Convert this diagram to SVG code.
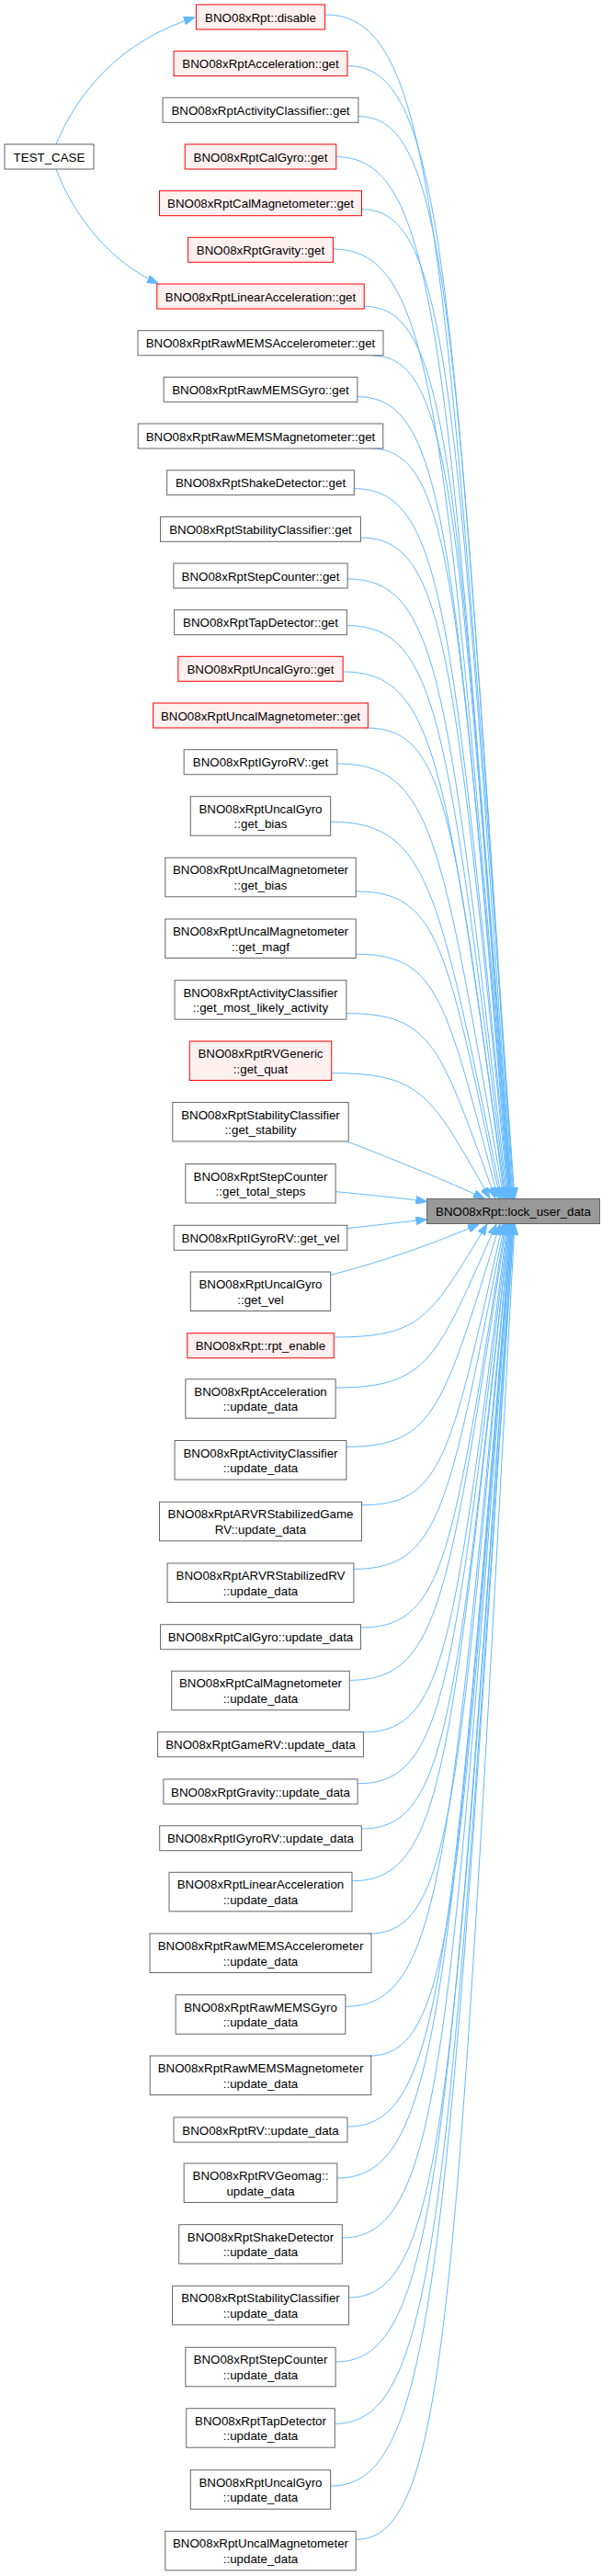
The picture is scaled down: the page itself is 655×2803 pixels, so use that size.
<svg xmlns="http://www.w3.org/2000/svg" width="655" height="2803" viewBox="0 0 655 2803">
<style>
text{font-family:"Liberation Sans",Arial,sans-serif;font-size:13.33px;fill:#000;text-anchor:middle}
.g rect{fill:#fff;stroke:#666;stroke-width:1}
.r rect{fill:#fff0f0;stroke:#f00;stroke-width:1}
.tg rect{fill:#999;stroke:#666;stroke-width:1}
#connectors path{fill:none;stroke:#63b8ff;stroke-width:1;marker-end:url(#arr)}
</style>
<defs>
<marker id="arr" markerWidth="12" markerHeight="9" refX="12" refY="4.5" orient="auto" markerUnits="userSpaceOnUse" viewBox="0 0 12 9">
<path d="M0,0 L12,4.5 L0,9 z" fill="#63b8ff" stroke="#63b8ff" stroke-width="1"/>
</marker>
</defs>
<rect width="655" height="2803" fill="#fff"/>
<g id="connectors">
<path d="M61,157 C85,100 130,45 212,19"/>
<path d="M61,184 C80,235 120,285 172,308.5"/>
<path d="M353.6,16 C473.3,16 483.6,247.8 560,1304"/>
<path d="M378,71.7 C483,71.7 492,293.5 559,1304"/>
<path d="M390,126.7 C487.4,126.7 495.8,338.6 558,1304"/>
<path d="M365.8,170.7 C476.7,170.7 486.3,374.7 557,1304"/>
<path d="M393.4,227.7 C488.3,227.7 496.5,421.4 557,1304"/>
<path d="M362.3,271 C474.6,271 484.3,456.9 556,1304"/>
<path d="M396.3,333.3 C488.9,333.3 496.9,508 556,1304"/>
<path d="M405,387 C492,387 499.5,552 555,1304"/>
<path d="M389.2,431.7 C485.4,431.7 493.7,588.7 555,1304"/>
<path d="M403,488 C490.6,488 498.1,634.9 554,1304"/>
<path d="M385.4,531.7 C483.2,531.7 491.6,670.7 554,1304"/>
<path d="M392.5,585 C485.6,585 493.6,714.4 553,1304"/>
<path d="M378.3,630 C479,630 487.7,751.3 552,1304"/>
<path d="M377.4,680.7 C478.1,680.7 486.8,792.9 551,1304"/>
<path d="M373.2,731 C475.7,731 484.6,834.1 550,1304"/>
<path d="M398,792 C485.6,792 493.1,884.2 549,1304"/>
<path d="M366.9,831 C471.9,831 481,916.1 548,1304"/>
<path d="M359.8,894.3 C467.8,894.3 477.1,968 546,1304"/>
<path d="M387.1,970 C478.1,970 485.9,1030.1 544,1304"/>
<path d="M387.1,1038.3 C476.9,1038.3 484.7,1086.1 542,1304"/>
<path d="M377,1102.7 C471,1102.7 479,1138.9 539,1304"/>
<path d="M361,1167.7 C460.8,1167.7 469.4,1192.2 533,1304"/>
<path d="M379.1,1242.7 C430,1262 490,1287 527,1304"/>
<path d="M365.2,1296.7 C400,1300 440,1304 464.5,1307.5"/>
<path d="M377.8,1336.7 C410,1333 440,1329.5 464.5,1327"/>
<path d="M359.8,1387.3 C420,1372 480,1350 521,1332"/>
<path d="M363.6,1455 C460.1,1455 468.4,1432.9 530,1332"/>
<path d="M365.2,1510 C466.6,1510 475.3,1478 540,1332"/>
<path d="M377,1574.3 C473.9,1574.3 482.2,1530.7 544,1332"/>
<path d="M393.8,1637.7 C482.7,1637.7 490.3,1582.7 547,1332"/>
<path d="M385,1707.3 C480.1,1707.3 488.3,1639.7 549,1332"/>
<path d="M392.5,1771 C483.9,1771 491.7,1692 550,1332"/>
<path d="M380.3,1828.3 C479.3,1828.3 487.8,1739 551,1332"/>
<path d="M395,1885 C486.1,1885 493.9,1785.5 552,1332"/>
<path d="M389.6,1940.7 C484.4,1940.7 492.5,1831.1 553,1332"/>
<path d="M393.4,1990 C486.5,1990 494.6,1871.6 554,1332"/>
<path d="M383.3,2046.7 C482.3,2046.7 490.8,1918.1 554,1332"/>
<path d="M402,2104 C490.7,2104 498.4,1965 555,1332"/>
<path d="M376.2,2183.3 C479.9,2183.3 488.8,2030.1 555,1332"/>
<path d="M402,2237 C491.3,2237 499,2074.1 556,1332"/>
<path d="M378.3,2314 C481.4,2314 490.3,2137.2 556,1332"/>
<path d="M366.9,2370 C477.2,2370 486.7,2183.2 557,1332"/>
<path d="M372.4,2435 C479.5,2435 488.7,2236.5 557,1332"/>
<path d="M379.5,2500 C483,2500 492,2289.8 558,1332"/>
<path d="M365.2,2570 C477,2570 486.7,2347.2 558,1332"/>
<path d="M364.4,2637.3 C477.3,2637.3 487,2402.3 559,1332"/>
<path d="M359.8,2705 C475.3,2705 485.3,2457.9 559,1332"/>
<path d="M387.1,2763.3 C487.4,2763.3 496,2505.7 560,1332"/>
</g>
<g id="target" class="tg"><rect x="464.5" y="1304.5" width="188" height="27"/><text x="558.5" y="1323">BNO08xRpt::lock_user_data</text></g>
<g id="test_case" class="g"><rect x="5" y="157" width="97" height="27"/><text x="53.5" y="175.5">TEST_CASE</text></g>
<g id="n1" class="r"><rect x="213.4" y="5" width="140.2" height="27"/><text x="283.5" y="23.5">BNO08xRpt::disable</text></g>
<g id="n2" class="r"><rect x="189.05" y="55.7" width="188.9" height="27"/><text x="283.5" y="74.2">BNO08xRptAcceleration::get</text></g>
<g id="n3" class="g"><rect x="177.1" y="106.3" width="212.8" height="27"/><text x="283.5" y="124.8">BNO08xRptActivityClassifier::get</text></g>
<g id="n4" class="r"><rect x="201.2" y="157" width="164.6" height="27"/><text x="283.5" y="175.5">BNO08xRptCalGyro::get</text></g>
<g id="n5" class="r"><rect x="173.5" y="207.7" width="220" height="27"/><text x="283.5" y="226.2">BNO08xRptCalMagnetometer::get</text></g>
<g id="n6" class="r"><rect x="204.6" y="258.3" width="157.8" height="27"/><text x="283.5" y="276.8">BNO08xRptGravity::get</text></g>
<g id="n7" class="r"><rect x="170.8" y="309" width="225.4" height="27"/><text x="283.5" y="327.5">BNO08xRptLinearAcceleration::get</text></g>
<g id="n8" class="g"><rect x="150" y="359.7" width="267" height="27"/><text x="283.5" y="378.2">BNO08xRptRawMEMSAccelerometer::get</text></g>
<g id="n9" class="g"><rect x="178.15" y="410.3" width="210.7" height="27"/><text x="283.5" y="428.8">BNO08xRptRawMEMSGyro::get</text></g>
<g id="n10" class="g"><rect x="150.2" y="461" width="266.6" height="27"/><text x="283.5" y="479.5">BNO08xRptRawMEMSMagnetometer::get</text></g>
<g id="n11" class="g"><rect x="181.7" y="511.7" width="203.6" height="27"/><text x="283.5" y="530.2">BNO08xRptShakeDetector::get</text></g>
<g id="n12" class="g"><rect x="174.55" y="562.3" width="217.9" height="27"/><text x="283.5" y="580.8">BNO08xRptStabilityClassifier::get</text></g>
<g id="n13" class="g"><rect x="188.85" y="613" width="189.3" height="27"/><text x="283.5" y="631.5">BNO08xRptStepCounter::get</text></g>
<g id="n14" class="g"><rect x="189.65" y="663.7" width="187.7" height="27"/><text x="283.5" y="682.2">BNO08xRptTapDetector::get</text></g>
<g id="n15" class="r"><rect x="193.85" y="714.3" width="179.3" height="27"/><text x="283.5" y="732.8">BNO08xRptUncalGyro::get</text></g>
<g id="n16" class="r"><rect x="166.6" y="765" width="233.8" height="27"/><text x="283.5" y="783.5">BNO08xRptUncalMagnetometer::get</text></g>
<g id="n17" class="g"><rect x="200.15" y="815.7" width="166.7" height="27"/><text x="283.5" y="834.2">BNO08xRptIGyroRV::get</text></g>
<g id="n18" class="g"><rect x="207.3" y="866.7" width="152.4" height="42.5"/><text x="283.5" y="884.7">BNO08xRptUncalGyro</text><text x="283.5" y="901.2">::get_bias</text></g>
<g id="n19" class="g"><rect x="179.8" y="933.3" width="207.4" height="42.5"/><text x="283.5" y="951.3">BNO08xRptUncalMagnetometer</text><text x="283.5" y="967.8">::get_bias</text></g>
<g id="n20" class="g"><rect x="179.8" y="1000" width="207.4" height="42.5"/><text x="283.5" y="1018">BNO08xRptUncalMagnetometer</text><text x="283.5" y="1034.5">::get_magf</text></g>
<g id="n21" class="g"><rect x="190.1" y="1066.7" width="186.8" height="42.5"/><text x="283.5" y="1084.7">BNO08xRptActivityClassifier</text><text x="283.5" y="1101.2">::get_most_likely_activity</text></g>
<g id="n22" class="r"><rect x="206.25" y="1133" width="154.5" height="42.5"/><text x="283.5" y="1151">BNO08xRptRVGeneric</text><text x="283.5" y="1167.5">::get_quat</text></g>
<g id="n23" class="g"><rect x="187.8" y="1199.5" width="191.4" height="42.5"/><text x="283.5" y="1217.5">BNO08xRptStabilityClassifier</text><text x="283.5" y="1234">::get_stability</text></g>
<g id="n24" class="g"><rect x="201.85" y="1266.5" width="163.3" height="42.5"/><text x="283.5" y="1284.5">BNO08xRptStepCounter</text><text x="283.5" y="1301">::get_total_steps</text></g>
<g id="n25" class="g"><rect x="189.25" y="1333.3" width="188.5" height="27"/><text x="283.5" y="1351.8">BNO08xRptIGyroRV::get_vel</text></g>
<g id="n26" class="g"><rect x="207.3" y="1384" width="152.4" height="42.5"/><text x="283.5" y="1402">BNO08xRptUncalGyro</text><text x="283.5" y="1418.5">::get_vel</text></g>
<g id="n27" class="r"><rect x="203.75" y="1450.7" width="159.5" height="27"/><text x="283.5" y="1469.2">BNO08xRpt::rpt_enable</text></g>
<g id="n28" class="g"><rect x="201.85" y="1500.7" width="163.3" height="42.5"/><text x="283.5" y="1518.7">BNO08xRptAcceleration</text><text x="283.5" y="1535.2">::update_data</text></g>
<g id="n29" class="g"><rect x="190.1" y="1567.5" width="186.8" height="42.5"/><text x="283.5" y="1585.5">BNO08xRptActivityClassifier</text><text x="283.5" y="1602">::update_data</text></g>
<g id="n30" class="g"><rect x="173.5" y="1634.3" width="220" height="42.5"/><text x="283.5" y="1652.3">BNO08xRptARVRStabilizedGame</text><text x="283.5" y="1668.8">RV::update_data</text></g>
<g id="n31" class="g"><rect x="182.1" y="1701" width="202.8" height="42.5"/><text x="283.5" y="1719">BNO08xRptARVRStabilizedRV</text><text x="283.5" y="1735.5">::update_data</text></g>
<g id="n32" class="g"><rect x="174.55" y="1767.7" width="217.9" height="27"/><text x="283.5" y="1786.2">BNO08xRptCalGyro::update_data</text></g>
<g id="n33" class="g"><rect x="186.75" y="1818.3" width="193.5" height="42.5"/><text x="283.5" y="1836.3">BNO08xRptCalMagnetometer</text><text x="283.5" y="1852.8">::update_data</text></g>
<g id="n34" class="g"><rect x="171.6" y="1884.7" width="223.8" height="27"/><text x="283.5" y="1903.2">BNO08xRptGameRV::update_data</text></g>
<g id="n35" class="g"><rect x="177.9" y="1936" width="211.2" height="27"/><text x="283.5" y="1954.5">BNO08xRptGravity::update_data</text></g>
<g id="n36" class="g"><rect x="173.7" y="1986.7" width="219.6" height="27"/><text x="283.5" y="2005.2">BNO08xRptIGyroRV::update_data</text></g>
<g id="n37" class="g"><rect x="184" y="2037.3" width="199" height="42.5"/><text x="283.5" y="2055.3">BNO08xRptLinearAcceleration</text><text x="283.5" y="2071.8">::update_data</text></g>
<g id="n38" class="g"><rect x="163" y="2104" width="241" height="42.5"/><text x="283.5" y="2122">BNO08xRptRawMEMSAccelerometer</text><text x="283.5" y="2138.5">::update_data</text></g>
<g id="n39" class="g"><rect x="191.15" y="2170.7" width="184.7" height="42.5"/><text x="283.5" y="2188.7">BNO08xRptRawMEMSGyro</text><text x="283.5" y="2205.2">::update_data</text></g>
<g id="n40" class="g"><rect x="163.2" y="2237" width="240.6" height="42.5"/><text x="283.5" y="2255">BNO08xRptRawMEMSMagnetometer</text><text x="283.5" y="2271.5">::update_data</text></g>
<g id="n41" class="g"><rect x="189.05" y="2304" width="188.9" height="27"/><text x="283.5" y="2322.5">BNO08xRptRV::update_data</text></g>
<g id="n42" class="g"><rect x="200.15" y="2354" width="166.7" height="42.5"/><text x="283.5" y="2372">BNO08xRptRVGeomag::</text><text x="283.5" y="2388.5">update_data</text></g>
<g id="n43" class="g"><rect x="194.7" y="2420.7" width="177.6" height="42.5"/><text x="283.5" y="2438.7">BNO08xRptShakeDetector</text><text x="283.5" y="2455.2">::update_data</text></g>
<g id="n44" class="g"><rect x="187.55" y="2487.3" width="191.9" height="42.5"/><text x="283.5" y="2505.3">BNO08xRptStabilityClassifier</text><text x="283.5" y="2521.8">::update_data</text></g>
<g id="n45" class="g"><rect x="201.85" y="2554.3" width="163.3" height="42.5"/><text x="283.5" y="2572.3">BNO08xRptStepCounter</text><text x="283.5" y="2588.8">::update_data</text></g>
<g id="n46" class="g"><rect x="202.7" y="2620.7" width="161.6" height="42.5"/><text x="283.5" y="2638.7">BNO08xRptTapDetector</text><text x="283.5" y="2655.2">::update_data</text></g>
<g id="n47" class="g"><rect x="207.3" y="2687.7" width="152.4" height="42.5"/><text x="283.5" y="2705.7">BNO08xRptUncalGyro</text><text x="283.5" y="2722.2">::update_data</text></g>
<g id="n48" class="g"><rect x="179.8" y="2754.3" width="207.4" height="42.5"/><text x="283.5" y="2772.3">BNO08xRptUncalMagnetometer</text><text x="283.5" y="2788.8">::update_data</text></g>
</svg>
